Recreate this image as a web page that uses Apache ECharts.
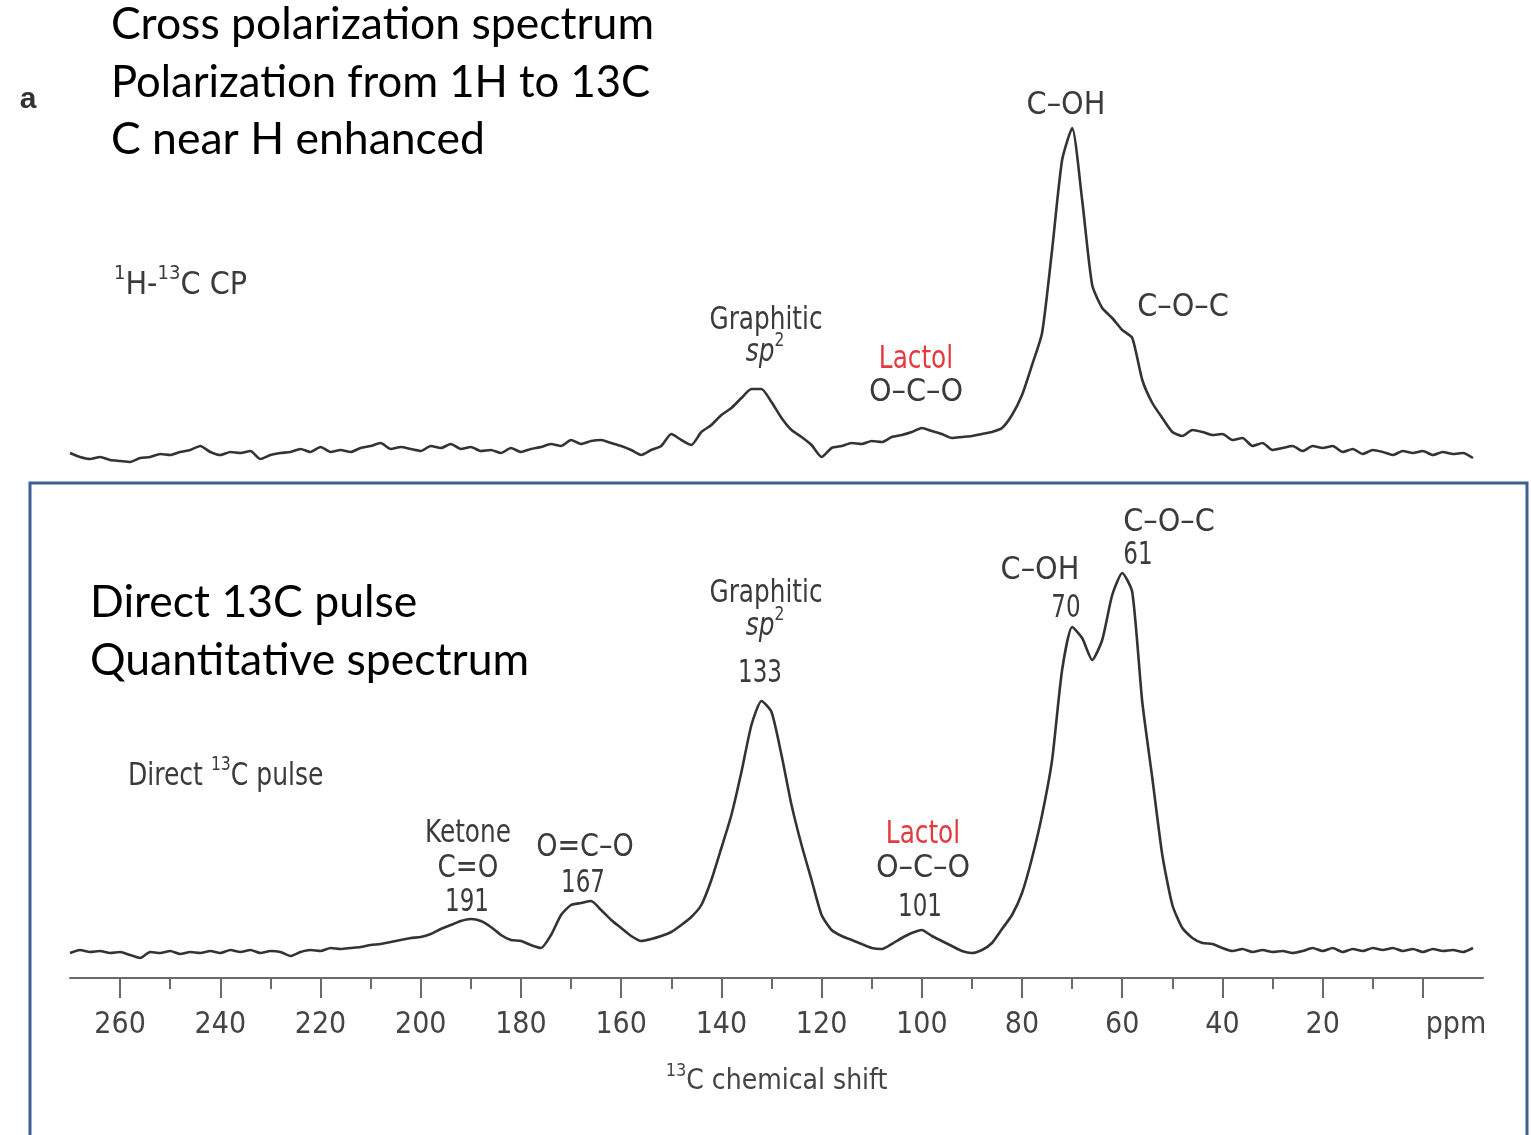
<!DOCTYPE html>
<html><head><meta charset="utf-8">
<script src="https://cdn.jsdelivr.net/npm/echarts@6/dist/echarts.min.js"></script>
<style>html,body{margin:0;padding:0;background:#fff}#c{width:1531px;height:1135px}</style>
</head><body><div id="c"></div><script>
// chemical shift (ppm) sampling of both traces
const ppm = [270,268,266,264,262,260,258,256,254,252,
 250,248,246,244,242,240,238,236,234,232,
 230,228,226,224,222,220,218,216,214,212,
 210,208,206,204,202,200,198,196,194,192,
 190,188,186,184,182,180,178,176,174,172,
 170,168,166,164,162,160,158,156,154,152,
 150,148,146,144,142,140,138,136,134,132,
 130,128,126,124,122,120,118,116,114,112,
 110,108,106,104,102,100,98,96,94,92,
 90,88,86,84,82,80,78,76,74,72,
 70,68,66,64,62,60,58,56,54,52,
 50,48,46,44,42,40,38,36,34,32,
 30,28,26,24,22,20,18,16,14,12,
 10,8,6,4,2,0,-2,-4,-6,-8,
 -10];
// 1H-13C CP spectrum (arbitrary intensity)
const cpIntensity = [4.25,3.25,2.75,3.25,2.5,2.25,2.0,3.0,3.25,4.0,
 3.75,4.5,5.0,6.0,4.5,3.75,4.5,4.25,4.75,2.75,
 3.75,4.25,4.5,5.25,4.5,5.75,4.5,5.0,4.5,5.5,
 6.0,6.75,5.25,5.75,5.25,4.75,6.0,5.5,6.5,5.25,
 5.75,4.75,5.0,4.25,5.5,4.5,5.25,5.75,6.5,6.0,
 7.5,6.5,7.25,7.5,6.75,6.0,5.0,3.75,5.0,6.0,
 9.0,7.5,6.25,9.5,11.25,13.75,15.5,18.0,20.25,20.25,
 17.0,13.0,10.0,8.25,6.25,3.25,5.5,6.0,6.75,6.5,
 7.25,7.0,8.25,8.75,9.5,10.5,9.75,9.0,8.0,8.25,
 8.5,9.0,9.5,10.5,13.75,18.75,26.25,34.25,55.0,77.5,
 85.5,67.5,46.25,40.5,38.0,35.0,33.0,22.5,16.75,13.0,
 9.5,8.5,10.0,9.5,8.75,9.0,7.5,8.0,6.0,6.75,
 5.0,5.5,6.0,4.75,6.0,5.5,6.0,4.5,5.25,4.0,
 5.0,4.5,3.75,4.75,4.25,4.75,3.75,4.5,4.0,4.25,
 3.0];
// Direct 13C pulse spectrum (arbitrary intensity)
const directIntensity = [4.25,5.0,4.5,4.75,4.25,4.5,3.75,3.0,4.5,4.25,
 4.75,4.0,4.5,4.25,4.75,4.25,5.0,4.5,5.0,4.25,
 4.75,4.5,3.5,4.5,5.0,4.75,5.5,5.25,5.5,5.75,
 6.25,6.5,7.0,7.5,8.0,8.25,9.0,10.25,11.25,12.25,
 12.75,12.25,10.75,8.75,7.5,7.25,6.25,5.5,8.75,13.75,
 16.25,16.75,17.25,15.0,12.5,10.5,8.5,7.25,7.75,8.5,
 9.5,11.25,13.25,16.25,22.5,30.5,38.75,49.5,61.25,67.25,
 64.5,53.75,41.25,31.25,22.5,13.75,10.0,8.5,7.5,6.5,
 5.5,5.25,6.5,8.0,9.25,10.0,8.5,7.25,6.0,4.75,
 4.25,5.0,6.75,10.25,13.75,19.25,28.0,38.75,52.5,75.0,
 85.75,83.0,77.5,82.5,93.75,99.25,94.5,67.0,48.0,28.75,
 16.25,10.5,8.0,6.75,6.5,5.5,4.75,5.25,4.5,5.0,
 4.5,4.75,4.25,4.75,5.5,4.75,5.5,4.5,5.25,4.75,
 5.5,5.0,5.5,4.75,5.25,4.5,5.25,4.75,5.0,4.5,
 5.5];
const majorTicks = [260,240,220,200,180,160,140,120,100,80,60,40,20,0];
const labelTicks = [260,240,220,200,180,160,140,120,100,80,60,40,20,-6.6];
const minorTicks = [250,230,210,190,170,150,130,110,90,70,50,30,10];

const NARROW = '"Liberation Sans Narrow","DejaVu Sans Condensed","Roboto Condensed",sans-serif';
const BIG = 'Lato, "Open Sans", sans-serif';
const LBL = '#3b3b3b';
const RED = '#e23a3f';
const SUP = {fontSize: 20, verticalAlign: 'top', fontFamily: NARROW, fill: LBL, lineHeight: 44};
const IT = {fontSize: 32, fontStyle: 'italic', fontFamily: NARROW, fill: LBL, lineHeight: 44};

function txt(x, y, text, o) {
  o = o || {};
  const dy = o.family ? 0 : 3;
  return {
    type: 'text', x: x, y: y + dy, z: 20, scaleX: o.sx || 1,
    style: {
      text: text,
      fill: o.fill || LBL,
      fontSize: o.size || 32,
      fontFamily: o.family || NARROW,
      fontWeight: o.weight || 'normal',
      align: o.align || 'center',
      verticalAlign: 'middle',
      lineHeight: o.lh || 44,
      rich: {s: SUP, i: IT, n: {fontSize: o.size || 32, fontFamily: NARROW, fill: LBL, lineHeight: 44}}
    }
  };
}

const zipped = arr => ppm.map((p, i) => [p, arr[i]]);

const chart = echarts.init(document.getElementById('c'), null, {renderer: 'canvas'});
const axisBase = {type: 'value', min: -12, max: 270, inverse: true, splitLine: {show: false}};
const WORD = 0.86, NUM = 0.8;
chart.setOption({
  animation: false,
  backgroundColor: '#fff',
  grid: [
    {left: 70, width: 1413, top: 70, height: 400, outerBoundsMode: 'none'},
    {left: 70, width: 1413, top: 498, height: 480, outerBoundsMode: 'none'}
  ],
  xAxis: [
    Object.assign({}, axisBase, {gridIndex: 0, show: false}),
    Object.assign({}, axisBase, {
      gridIndex: 1, position: 'bottom',
      axisLine: {show: true, onZero: false, lineStyle: {color: '#6a6a6a', width: 2}},
      axisTick: {show: true, customValues: majorTicks, length: 20, lineStyle: {color: '#6a6a6a', width: 2}},
      axisLabel: {show: true, customValues: labelTicks, margin: 32, color: '#444', fontSize: 30, fontFamily: NARROW,
        formatter: v => (v < 0 ? 'ppm' : String(v))},
      name: '{s|13}C chemical shift', nameLocation: 'middle', nameGap: 84,
      nameTextStyle: {color: '#444', fontSize: 28, fontFamily: NARROW, lineHeight: 40,
        rich: {s: {fontSize: 18, verticalAlign: 'top', fontFamily: NARROW, color: '#444', lineHeight: 40}}}
    }),
    Object.assign({}, axisBase, {
      gridIndex: 1, position: 'bottom',
      axisLine: {show: false, onZero: false},
      axisTick: {show: true, customValues: minorTicks, length: 11, lineStyle: {color: '#6a6a6a', width: 2}},
      axisLabel: {show: false}
    })
  ],
  yAxis: [
    {type: 'value', gridIndex: 0, min: 0, max: 100, show: false},
    {type: 'value', gridIndex: 1, min: -2, max: 118, show: false}
  ],
  series: [
    {type: 'line', name: '1H-13C CP', xAxisIndex: 0, yAxisIndex: 0, data: zipped(cpIntensity),
      symbol: 'none', smooth: 0.2, lineStyle: {color: '#333', width: 2.6}, silent: true},
    {type: 'line', name: 'Direct 13C pulse', xAxisIndex: 1, yAxisIndex: 1, data: zipped(directIntensity),
      symbol: 'none', smooth: 0.2, lineStyle: {color: '#333', width: 2.6}, silent: true}
  ],
  graphic: [
    {type: 'rect', z: 10, shape: {x: 30, y: 483, width: 1497, height: 700},
      style: {fill: 'none', stroke: '#3d5f92', lineWidth: 3}},
    txt(111, 25, 'Cross polarization spectrum', {align: 'left', size: 44.5, family: BIG, fill: '#000'}),
    txt(111, 83, 'Polarization from 1H to 13C', {align: 'left', size: 44.5, family: BIG, fill: '#000', sx: 0.98}),
    txt(111, 140, 'C near H enhanced', {align: 'left', size: 44.5, family: BIG, fill: '#000'}),
    txt(90, 603, 'Direct 13C pulse', {align: 'left', size: 44.5, family: BIG, fill: '#000'}),
    txt(90, 661, 'Quantitative spectrum', {align: 'left', size: 44.5, family: BIG, fill: '#000'}),
    txt(28, 100, 'a', {size: 30, weight: 'bold', fill: '#333', family: '"Liberation Sans", sans-serif'}),
    txt(114, 283, '{s|1}{n|H-}{s|13}{n|C CP}', {align: 'left'}),
    txt(1066, 103, 'C–OH'),
    txt(1183, 305, 'C–O–C'),
    txt(766, 318, 'Graphitic', {sx: WORD}),
    txt(765, 350, '{i|sp}{s|2}', {sx: WORD}),
    txt(916, 357, 'Lactol', {fill: RED, sx: WORD}),
    txt(916, 390, 'O–C–O'),
    txt(128, 774, '{n|Direct }{s|13}{n|C pulse}', {align: 'left', sx: 0.87}),
    txt(468, 831, 'Ketone', {sx: WORD}),
    txt(468, 866, 'C=O', {sx: 0.91}),
    txt(467, 900, '191', {sx: NUM}),
    txt(585, 845, 'O=C–O', {sx: 0.94}),
    txt(583, 881, '167', {sx: NUM}),
    txt(766, 591, 'Graphitic', {sx: WORD}),
    txt(765, 624, '{i|sp}{s|2}', {sx: WORD}),
    txt(760, 671, '133', {sx: NUM}),
    txt(923, 832, 'Lactol', {fill: RED, sx: WORD}),
    txt(923, 866, 'O–C–O'),
    txt(920, 905, '101', {sx: NUM}),
    txt(1040, 568, 'C–OH'),
    txt(1066, 606, '70', {sx: NUM}),
    txt(1169, 520, 'C–O–C'),
    txt(1138, 553, '61', {sx: NUM})
  ]
});
</script></body></html>
